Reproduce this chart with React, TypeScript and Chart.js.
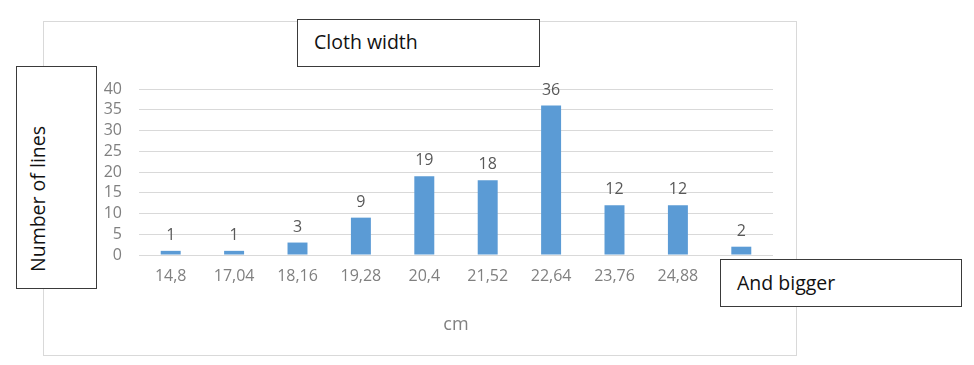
import React, { useEffect, useRef } from "react";
import { Chart, registerables } from "chart.js";

Chart.register(...registerables);

const categories: (string | string[])[] = [
  "14,8", "17,04", "18,16", "19,28", "20,4", "21,52", "22,64", "23,76", "24,88", ["", "more"],
];
const lineCounts = [1, 1, 3, 9, 19, 18, 36, 12, 12, 2];
const yTicks = [0, 5, 10, 15, 20, 25, 30, 35, 40];

const FONT = "'Open Sans', 'DejaVu Sans', sans-serif";
const BAR_BLUE = "#5B9BD5";
const GRID = "#d9d9d9";
const TICK_GRAY = "#808080";

// Writes each bar's value above it
const valueLabels = {
  id: "valueLabels",
  afterDatasetsDraw(chart: Chart) {
    const { ctx } = chart;
    const meta = chart.getDatasetMeta(0);
    ctx.save();
    ctx.font = `16px ${FONT}`;
    ctx.fillStyle = "#595959";
    ctx.textAlign = "center";
    ctx.textBaseline = "alphabetic";
    meta.data.forEach((bar: any, i: number) => {
      ctx.fillText(String(lineCounts[i]), bar.x, bar.y - 11);
    });
    ctx.restore();
  },
};

function BarChart() {
  const ref = useRef<HTMLCanvasElement>(null);
  useEffect(() => {
    if (!ref.current) return;
    const chart = new Chart(ref.current, {
      type: "bar",
      data: {
        labels: categories,
        datasets: [
          {
            data: lineCounts,
            backgroundColor: BAR_BLUE,
            barPercentage: 0.63,
            categoryPercentage: 0.5,
          },
        ],
      },
      options: {
        animation: false,
        responsive: false,
        layout: { padding: { left: 0, top: 89, right: 201, bottom: 0 } },
        plugins: { legend: { display: false }, tooltip: { enabled: false } },
        scales: {
          x: {
            grid: { display: false, drawTicks: false },
            border: { display: false },
            ticks: { font: { family: FONT, size: 16 }, color: TICK_GRAY, padding: 12, maxRotation: 0, autoSkip: false },
            title: {
              display: true,
              text: "cm",
              font: { family: FONT, size: 18 },
              color: TICK_GRAY,
              padding: { top: 0, bottom: 29 },
            },
            afterFit(scale: any) {
              scale.height = 110;
            },
          },
          y: {
            min: 0,
            max: 40,
            afterBuildTicks(scale: any) {
              scale.ticks = yTicks.map((v) => ({ value: v }));
            },
            grid: { color: GRID, drawTicks: false },
            border: { display: false },
            ticks: { font: { family: FONT, size: 16, lineHeight: 1 }, color: TICK_GRAY, padding: 17, autoSkip: false },
            afterFit(scale: any) {
              scale.width = 139;
            },
          },
        },
      },
      plugins: [valueLabels],
    });
    return () => chart.destroy();
  }, []);
  return <canvas ref={ref} width={974} height={365} style={{ position: "absolute", left: 0, top: 0 }} />;
}

const boxStyle: React.CSSProperties = {
  position: "absolute",
  boxSizing: "border-box",
  border: "1.5px solid #3a3a3a",
  background: "#ffffff",
  fontFamily: FONT,
  color: "#111",
};

export default function App() {
  return (
    <div style={{ position: "absolute", left: 0, top: 0, width: 974, height: 365, background: "#ffffff", overflow: "hidden" }}>
      <div style={{ position: "absolute", left: 43, top: 21, width: 754, height: 335, boxSizing: "border-box", border: `1.5px solid ${GRID}` }} />
      <BarChart />
      <div style={{ ...boxStyle, left: 297, top: 19, width: 243, height: 48 }}>
        <div style={{ position: "absolute", left: 16, top: 10, fontSize: 19.5, lineHeight: "24px", whiteSpace: "nowrap" }}>Cloth width</div>
      </div>
      <div style={{ ...boxStyle, left: 16, top: 66, width: 81, height: 223 }}>
        <div
          style={{
            position: "absolute",
            left: 21,
            top: 132,
            fontSize: 19.5,
            lineHeight: "24px",
            whiteSpace: "nowrap",
            transform: "translate(-50%, -50%) rotate(-90deg)",
          }}
        >
          Number of lines
        </div>
      </div>
      <div style={{ ...boxStyle, left: 720, top: 259, width: 242, height: 48 }}>
        <div style={{ position: "absolute", left: 16, top: 11, fontSize: 19.5, lineHeight: "24px", whiteSpace: "nowrap" }}>And bigger</div>
      </div>
    </div>
  );
}
